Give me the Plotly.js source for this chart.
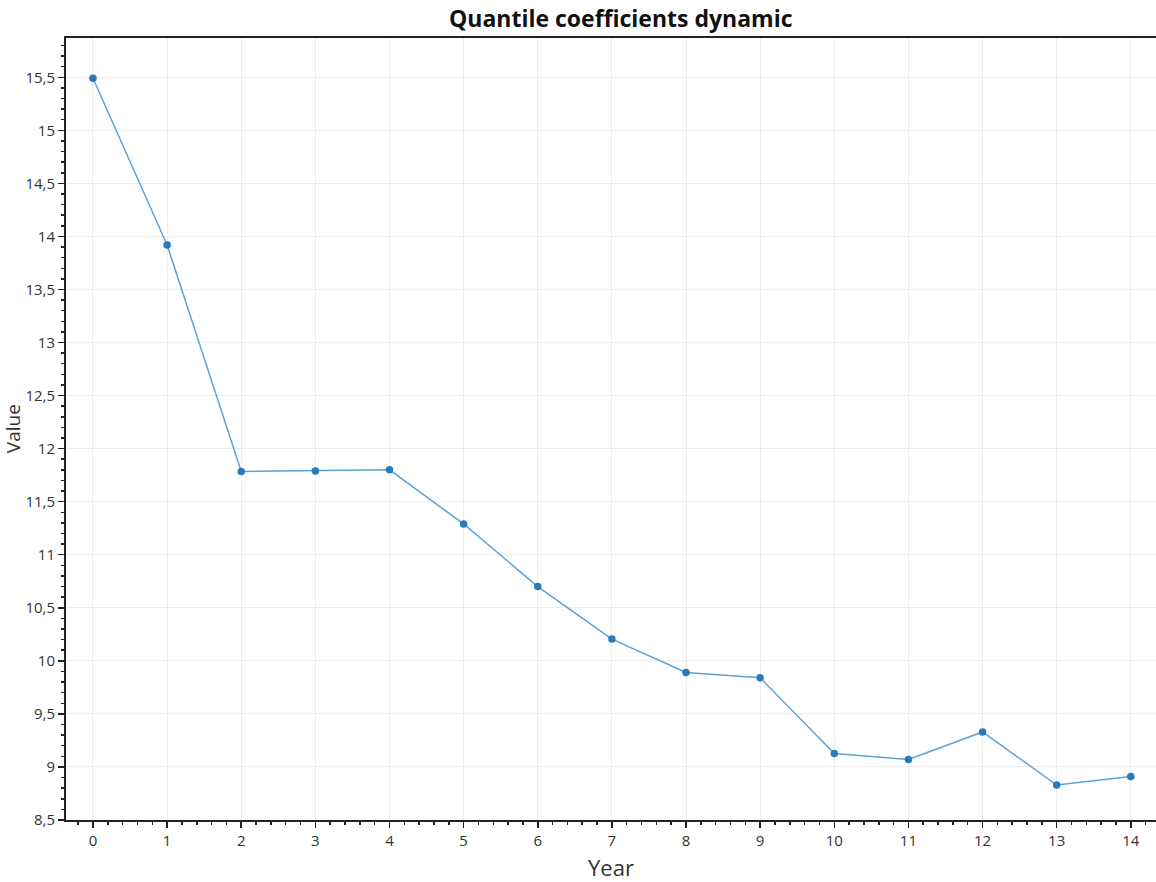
<!DOCTYPE html>
<html>
<head>
<meta charset="utf-8">
<script src="https://cdn.plot.ly/plotly-3.0.1.min.js"></script>
<style>html,body{margin:0;padding:0;background:#fff}#chart{width:1156px;height:882px}</style>
</head>
<body>
<div id="chart"></div>
<script>
const years = [0,1,2,3,4,5,6,7,8,9,10,11,12,13,14];
const values = [15.49,13.92,11.785,11.79,11.80,11.29,10.70,10.205,9.89,9.84,9.126,9.07,9.33,8.83,8.91];
const chartTitle = "Quantile coefficients dynamic";
const xTitle = "Year";
const yTitle = "Value";

const font = "'Open Sans', 'Noto Sans', sans-serif";

const trace = {
  x: years, y: values, type: 'scatter', mode: 'lines+markers',
  line: {color: '#5ba3d6', width: 1.5},
  marker: {color: '#2a7ab9', size: 7.5}
};

const layout = {
  width: 1156, height: 882,
  margin: {l: 66, r: 0, t: 38, b: 62},
  separators: ', ',
  paper_bgcolor: '#ffffff', plot_bgcolor: '#ffffff',
  font: {family: font, color: '#333', size: 15},
  showlegend: false,
  title: {text: '<b>' + chartTitle + '</b>', xref: 'container', x: 0.537, xanchor: 'center', y: 0.978, yanchor: 'middle',
          font: {family: font, size: 23, color: '#111'}},
  xaxis: {
    range: [-0.364, 14.34], tickmode: 'linear', tick0: 0, dtick: 1,
    showgrid: true, gridcolor: '#ececec', gridwidth: 1, zeroline: false,
    showline: true, linecolor: '#222', linewidth: 2, mirror: true,
    ticks: 'outside', ticklen: 6, tickwidth: 1.5, tickcolor: '#222',
    minor: {dtick: 0.2, tick0: 0, ticks: 'outside', ticklen: 3, tickwidth: 1.5, tickcolor: '#222', showgrid: false},
    tickfont: {size: 15, color: '#333'},
    title: {text: xTitle, font: {size: 22, color: '#333'}, standoff: 12}
  },
  yaxis: {
    range: [8.5, 15.87], tickmode: 'linear', tick0: 8.5, dtick: 0.5,
    showgrid: true, gridcolor: '#ececec', gridwidth: 1, zeroline: false,
    showline: true, linecolor: '#222', linewidth: 2, mirror: false,
    ticks: 'outside', ticklen: 6, tickwidth: 1.5, tickcolor: '#222',
    minor: {dtick: 0.1, tick0: 8.5, ticks: 'outside', ticklen: 3, tickwidth: 1.5, tickcolor: '#222', showgrid: false},
    tickfont: {size: 15, color: '#333'},
    title: {text: ''}
  },
  annotations: [{
    text: yTitle, xref: 'paper', yref: 'paper', x: -0.0485, y: 0.5,
    xanchor: 'center', yanchor: 'middle', textangle: -90, showarrow: false,
    font: {family: font, size: 19, color: '#333'}
  }]
};

Plotly.newPlot('chart', [trace], layout, {displayModeBar: false, staticPlot: true});
</script>
</body>
</html>
